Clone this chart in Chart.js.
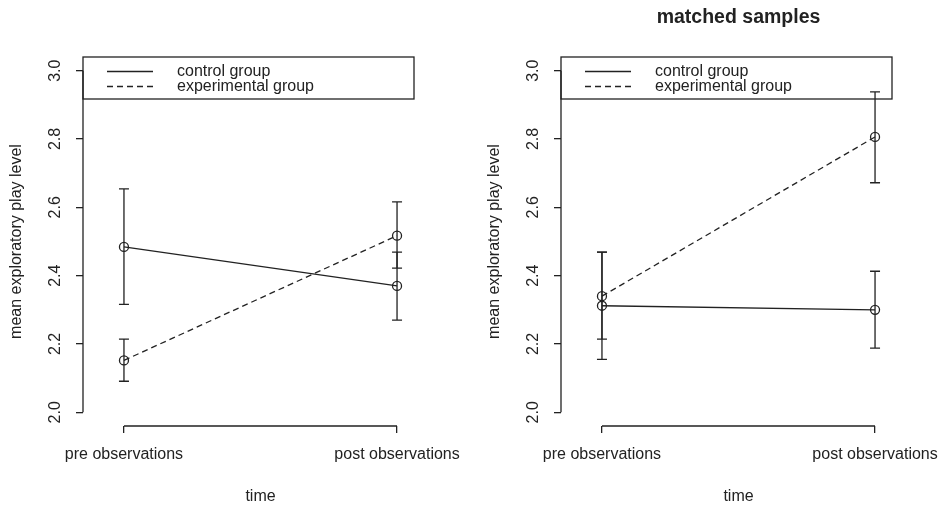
<!DOCTYPE html>
<html lang="en">
<head>
  <meta charset="UTF-8">
  <title>Exploratory play level</title>
  <script src="https://cdn.jsdelivr.net/npm/chart.js"></script>
  <style>
    body {
      margin: 0;
      background: #ffffff;
    }
    .panel {
      position: absolute;
      top: 0;
    }
  </style>
</head>
<body>
  <canvas id="allChart" class="panel" width="472" height="507" style="left:0px"></canvas>
  <canvas id="matchedChart" class="panel" width="466" height="507" style="left:478px"></canvas>

  <script>
    // categories and series
    const timeLabels = ['pre observations', 'post observations'];
    const seriesNames = ['control group', 'experimental group'];
    const yTicks = [2.0, 2.2, 2.4, 2.6, 2.8, 3.0];

    // left panel: all samples
    const allControl = [2.484, 2.370];
    const allControlLow = [2.316, 2.270];
    const allControlHigh = [2.654, 2.469];
    const allExp = [2.152, 2.517];
    const allExpLow = [2.091, 2.422];
    const allExpHigh = [2.214, 2.616];

    // right panel: matched samples
    const matchedControl = [2.312, 2.300];
    const matchedControlLow = [2.155, 2.188];
    const matchedControlHigh = [2.469, 2.413];
    const matchedExp = [2.340, 2.806];
    const matchedExpLow = [2.214, 2.672];
    const matchedExpHigh = [2.469, 2.938];

    const ink = '#222222';
    Chart.defaults.font.family = "'Liberation Sans', Arial, sans-serif";
    Chart.defaults.font.size = 16;
    Chart.defaults.color = ink;

    // R-style extras: short axis lines, error bars, boxed legend
    const rStyle = {
      id: 'rStyle',
      afterDatasetsDraw(chart) {
        const ctx = chart.ctx;
        const xs = chart.scales.x;
        const ys = chart.scales.y;
        const area = chart.chartArea;
        ctx.save();
        ctx.strokeStyle = ink;
        ctx.lineWidth = 1.3;

        // axis lines only over the tick range
        ctx.beginPath();
        ctx.moveTo(area.left, ys.getPixelForValue(yTicks[0]));
        ctx.lineTo(area.left, ys.getPixelForValue(yTicks[yTicks.length - 1]));
        ctx.moveTo(xs.getPixelForValue(1), area.bottom);
        ctx.lineTo(xs.getPixelForValue(timeLabels.length), area.bottom);
        ctx.stroke();

        // error bars
        chart.data.datasets.forEach(ds => {
          ds.data.forEach((pt, i) => {
            const x = xs.getPixelForValue(pt.x);
            const yLo = ys.getPixelForValue(ds.low[i]);
            const yHi = ys.getPixelForValue(ds.high[i]);
            ctx.beginPath();
            ctx.moveTo(x, yLo);
            ctx.lineTo(x, yHi);
            ctx.moveTo(x - 5, yLo);
            ctx.lineTo(x + 5, yLo);
            ctx.moveTo(x - 5, yHi);
            ctx.lineTo(x + 5, yHi);
            ctx.stroke();
          });
        });

        // legend box in the top left corner
        const bx = area.left;
        const by = area.top;
        ctx.strokeRect(bx, by, 331, 42);
        ctx.font = "16px 'Liberation Sans', Arial, sans-serif";
        ctx.fillStyle = ink;
        ctx.textBaseline = 'middle';
        chart.data.datasets.forEach((ds, i) => {
          const rowY = by + 14.5 + i * 15;
          ctx.setLineDash(ds.borderDash || []);
          ctx.beginPath();
          ctx.moveTo(bx + 24, rowY);
          ctx.lineTo(bx + 70, rowY);
          ctx.stroke();
          ctx.setLineDash([]);
          ctx.fillText(ds.label, bx + 94, rowY);
        });
        ctx.restore();
      }
    };

    function makeSeries(values, low, high, name, dash) {
      return {
        label: name,
        data: values.map((v, i) => ({ x: i + 1, y: v })),
        low: low,
        high: high,
        borderColor: ink,
        borderWidth: 1.3,
        borderDash: dash,
        pointStyle: 'circle',
        pointRadius: 4.5,
        pointBorderWidth: 1.3,
        pointBorderColor: ink,
        pointBackgroundColor: 'rgba(0,0,0,0)',
        tension: 0
      };
    }

    function makeChart(id, datasets, title, topPad, rightPad) {
      return new Chart(document.getElementById(id), {
        type: 'line',
        data: { datasets: datasets },
        options: {
          responsive: false,
          animation: false,
          layout: { padding: { left: 7, right: rightPad, top: topPad, bottom: 1 } },
          plugins: {
            legend: { display: false },
            tooltip: { enabled: false },
            title: {
              display: !!title,
              text: title,
              fullSize: false,
              font: { size: 19.5, weight: 'bold' },
              color: ink,
              padding: { top: 6, bottom: 27.6 }
            }
          },
          scales: {
            x: {
              type: 'linear',
              min: 0.85,
              max: 2.15,
              afterBuildTicks: s => { s.ticks = timeLabels.map((_, i) => ({ value: i + 1 })); },
              afterFit: s => { s.height = 80; s.paddingLeft = 0; s.paddingRight = 0; },
              ticks: {
                padding: 12,
                maxRotation: 0,
                callback: v => timeLabels[v - 1]
              },
              grid: { drawOnChartArea: false, tickLength: 7, color: ink, lineWidth: 1.3 },
              border: { display: false },
              title: { display: true, text: 'time', padding: 0 }
            },
            y: {
              min: 1.96,
              max: 3.04,
              afterBuildTicks: s => { s.ticks = yTicks.map(v => ({ value: v })); },
              afterFit: s => { s.width = 76; s.paddingTop = 0; s.paddingBottom = 0; },
              ticks: {
                minRotation: 90,
                maxRotation: 90,
                crossAlign: 'center',
                padding: 9,
                callback: v => v.toFixed(1)
              },
              grid: { drawOnChartArea: false, tickLength: 7, color: ink, lineWidth: 1.3 },
              border: { display: false },
              title: { display: true, text: 'mean exploratory play level', padding: 0 }
            }
          }
        },
        plugins: [rStyle]
      });
    }

    makeChart('allChart', [
      makeSeries(allControl, allControlLow, allControlHigh, seriesNames[0], []),
      makeSeries(allExp, allExpLow, allExpHigh, seriesNames[1], [6, 4])
    ], '', 57, 34);

    makeChart('matchedChart', [
      makeSeries(matchedControl, matchedControlLow, matchedControlHigh, seriesNames[0], []),
      makeSeries(matchedExp, matchedExpLow, matchedExpHigh, seriesNames[1], [6, 4])
    ], 'matched samples', 0, 28);
  </script>
</body>
</html>
